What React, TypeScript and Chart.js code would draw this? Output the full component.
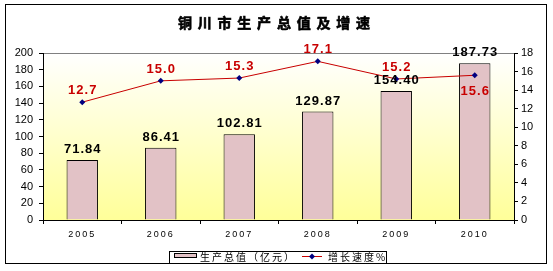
import React, { useEffect, useRef } from "react";
import { Chart, registerables } from "chart.js";

Chart.register(...registerables);

const chartTitle = "铜川市生产总值及增速";
const years = ["2005", "2006", "2007", "2008", "2009", "2010"];
const gdpValues = [71.84, 86.41, 102.81, 129.87, 154.4, 187.73];
const growthValues = [12.7, 15.0, 15.3, 17.1, 15.2, 15.6];
const gdpLabel = "生产总值（亿元）";
const growthLabel = "增长速度%";
const leftAxisMax = 200;
const leftAxisStep = 20;
const rightAxisMax = 18;
const rightAxisStep = 2;

const LATIN = "'Liberation Sans', Arial, sans-serif";
const CJK = "'Noto Sans CJK SC', sans-serif";
const BAR_FILL = "#E2C2C6";
const LINE_RED = "#C80000";
const MARKER = "#000080";

const decorPlugin = {
  id: "decor",
  afterUpdate(chart: any) {
    const xs = chart.scales.x;
    if (xs && !xs.__wrapped) {
      const orig = xs.drawLabels.bind(xs);
      xs.drawLabels = (area: any) => {
        const c = chart.ctx;
        c.save();
        c.letterSpacing = "2px";
        orig(area);
        c.restore();
      };
      xs.__wrapped = true;
    }
  },
  beforeDraw(chart: any) {
    const { ctx, chartArea: a, width, height } = chart;
    ctx.save();
    ctx.fillStyle = "#ffffff";
    ctx.fillRect(0, 0, width, height);
    const g = ctx.createLinearGradient(0, a.top, 0, a.bottom);
    g.addColorStop(0, "#FFFFFF");
    g.addColorStop(1, "#FFFF99");
    ctx.fillStyle = g;
    ctx.fillRect(a.left, a.top, a.right - a.left, a.bottom - a.top);
    ctx.strokeStyle = "#808080";
    ctx.lineWidth = 1;
    ctx.beginPath();
    ctx.moveTo(a.left, a.top + 0.5);
    ctx.lineTo(a.right, a.top + 0.5);
    ctx.stroke();
    ctx.restore();
  },
  afterDatasetsDraw(chart: any) {
    const { ctx } = chart;
    ctx.save();
    ctx.textAlign = "center";
    ctx.textBaseline = "alphabetic";
    ctx.font = `bold 13px ${LATIN}`;
    ctx.letterSpacing = "1px";
    const bars = chart.getDatasetMeta(0).data;
    bars.forEach((b: any, i: number) => {
      ctx.fillStyle = "#000000";
      ctx.fillText(gdpValues[i].toFixed(2), b.x + 0.5, b.y - 7);
    });
    const pts = chart.getDatasetMeta(1).data;
    pts.forEach((p: any, i: number) => {
      ctx.fillStyle = LINE_RED;
      const below = i === pts.length - 1;
      ctx.fillText(growthValues[i].toFixed(1), p.x + 0.5, below ? p.y + 20 : p.y - 8);
    });
    ctx.restore();
  },
  afterDraw(chart: any) {
    const { ctx } = chart;
    ctx.save();
    // outer frame
    ctx.strokeStyle = "#000";
    ctx.lineWidth = 1;
    ctx.strokeRect(5.5, 4.5, 541, 259);
    // title, one glyph per cell
    ctx.fillStyle = "#000";
    ctx.strokeStyle = "#000";
    ctx.lineWidth = 0.6;
    ctx.font = `bold 14px ${CJK}`;
    ctx.textAlign = "center";
    ctx.textBaseline = "middle";
    const chars = Array.from(chartTitle);
    const pitch = 19.8;
    const startX = 274 - (pitch * (chars.length - 1)) / 2;
    chars.forEach((ch, i) => {
      ctx.fillText(ch, startX + i * pitch, 22.5);
      ctx.strokeText(ch, startX + i * pitch, 22.5);
    });
    // legend
    ctx.lineWidth = 1;
    const lx = 169, ly = 251, lw = 217, lh = 12;
    ctx.fillStyle = "#fff";
    ctx.fillRect(lx, ly, lw, lh);
    ctx.strokeRect(lx + 0.5, ly + 0.5, lw, lh);
    ctx.fillStyle = BAR_FILL;
    ctx.fillRect(174.5, 253.5, 22, 4);
    ctx.strokeRect(174.5, 253.5, 22, 4);
    ctx.fillStyle = "#000";
    ctx.font = `10px ${CJK}`;
    ctx.textAlign = "left";
    ctx.textBaseline = "middle";
    ctx.letterSpacing = "2px";
    ctx.fillText(gdpLabel, 200, 257);
    ctx.fillText(growthLabel, 328, 257);
    ctx.letterSpacing = "0px";
    ctx.strokeStyle = LINE_RED;
    ctx.beginPath();
    ctx.moveTo(302, 256.5);
    ctx.lineTo(322, 256.5);
    ctx.stroke();
    ctx.fillStyle = MARKER;
    ctx.beginPath();
    ctx.moveTo(312, 253.5);
    ctx.lineTo(315, 256.5);
    ctx.lineTo(312, 259.5);
    ctx.lineTo(309, 256.5);
    ctx.closePath();
    ctx.fill();
    ctx.restore();
  },
};

export default function App() {
  const ref = useRef<HTMLCanvasElement>(null);
  useEffect(() => {
    document.body.style.margin = "0";
    const canvas = ref.current!;
    const chart = new Chart(canvas, {
      type: "bar",
      data: {
        labels: years,
        datasets: [
          {
            type: "bar",
            label: gdpLabel,
            data: gdpValues,
            backgroundColor: BAR_FILL,
            borderColor: "#000",
            borderWidth: 1,
            barPercentage: 0.4,
            categoryPercentage: 1,
            yAxisID: "y",
            order: 2,
          },
          {
            type: "line",
            label: growthLabel,
            data: growthValues,
            borderColor: LINE_RED,
            borderWidth: 1,
            pointStyle: "rectRot",
            pointRadius: 3,
            pointBackgroundColor: MARKER,
            pointBorderColor: MARKER,
            pointBorderWidth: 0,
            yAxisID: "y1",
            order: 1,
          },
        ],
      },
      options: {
        animation: false,
        responsive: false,
        devicePixelRatio: 1,
        layout: { padding: { top: 53, bottom: 30, left: 0, right: 0 } },
        plugins: { legend: { display: false }, tooltip: { enabled: false }, title: { display: false } },
        scales: {
          x: {
            offset: true,
            grid: { offset: true, drawOnChartArea: false, drawTicks: true, tickLength: 4, color: "#000" },
            border: { color: "#000" },
            ticks: { color: "#000", font: { family: LATIN, size: 9 }, padding: 5, maxRotation: 0 },
            afterFit: (s: any) => { s.height = 21; },
          },
          y: {
            position: "left",
            min: 0,
            max: leftAxisMax,
            ticks: { stepSize: leftAxisStep, color: "#000", font: { family: LATIN, size: 11 }, padding: 6 },
            grid: { drawOnChartArea: false, drawTicks: true, tickLength: 4, color: "#000" },
            border: { color: "#000" },
            afterFit: (s: any) => { s.width = 43; },
          },
          y1: {
            position: "right",
            min: 0,
            max: rightAxisMax,
            ticks: { stepSize: rightAxisStep, color: "#000", font: { family: LATIN, size: 11 }, padding: 3 },
            grid: { drawOnChartArea: false, drawTicks: true, tickLength: 4, color: "#000" },
            border: { color: "#000" },
            afterFit: (s: any) => { s.width = 39; },
          },
        },
      },
      plugins: [decorPlugin],
    } as any);
    return () => chart.destroy();
  }, []);
  return <canvas ref={ref} width={553} height={271} style={{ display: "block", width: 553, height: 271 }} />;
}
